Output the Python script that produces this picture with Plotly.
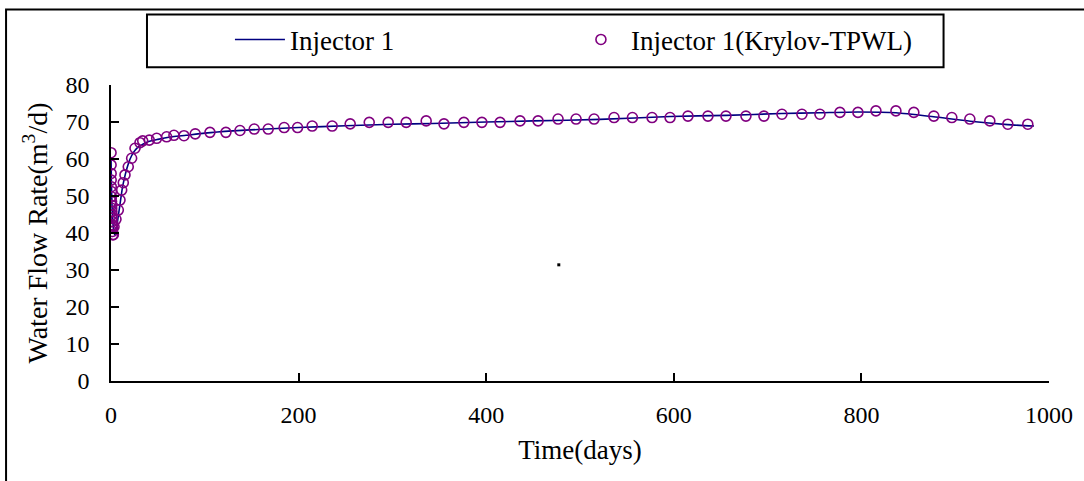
import plotly.graph_objects as go

# Simulated injector rate (full-order model), days vs m3/d
line_t = [0, 0.5, 1, 2, 3, 4, 5, 6, 8, 10, 12, 14, 17, 20, 24, 28, 34, 40, 50, 60,
          80, 100, 130, 166, 200, 250, 300, 343, 400, 450, 521, 596, 656, 715, 756,
          796, 837, 877, 916, 956, 984]
line_q = [60.5, 53.0, 48.0, 43.0, 40.5, 39.5, 40.0, 41.5, 45.0, 48.5, 52.0, 54.5,
          57.5, 59.8, 61.8, 63.0, 64.0, 64.7, 65.3, 65.8, 66.4, 67.0, 67.6, 68.1,
          68.5, 69.0, 69.4, 69.6, 70.0, 70.3, 70.7, 71.5, 71.8, 72.3, 72.5, 72.7,
          72.5, 71.4, 70.2, 69.3, 68.9]

# Reduced-order (Krylov-TPWL) results
rom_t = [0.05, 0.1, 0.15, 0.2, 0.3, 0.4, 0.5, 0.6, 0.7, 0.8, 0.9, 1.0, 1.1, 1.2,
         1.3, 1.5, 1.7, 2.0, 2.5, 3.2, 5.3, 7.8, 9.6, 11.4, 13.1, 14.9, 18.4, 22.0,
         25.6, 30.9, 33.8, 40.8, 48.7, 59.3, 67.1, 77.8, 89.8, 105.5, 122.5, 137.5,
         152.7, 167.6, 184.6, 198.9, 214.5, 235.8, 255.0, 275.3, 295.5, 314.7,
         336.0, 355.0, 376.2, 395.4, 414.8, 436.1, 455.3, 476.6, 495.8, 515.0,
         536.3, 555.9, 576.8, 596.0, 615.1, 636.4, 655.6, 676.9, 696.1, 715.3,
         736.6, 755.8, 777.1, 796.3, 815.5, 836.8, 855.9, 877.2, 896.4, 915.6,
         936.9, 956.1, 977.4]
rom_q = [61.7, 58.4, 56.1, 54.3, 52.5, 51.2, 49.8, 48.5, 47.5, 46.7, 45.8, 44.9,
         44.0, 43.1, 42.2, 41.3, 40.4, 39.5, 39.6, 41.7, 43.7, 46.2, 48.9, 51.6,
         53.6, 55.7, 57.9, 60.2, 62.9, 64.4, 64.9, 65.1, 65.6, 66.0, 66.4, 66.3,
         66.8, 67.2, 67.2, 67.7, 68.1, 68.1, 68.5, 68.5, 68.9, 68.9, 69.5, 69.9,
         69.9, 69.9, 70.3, 69.5, 69.9, 69.9, 69.9, 70.3, 70.3, 70.8, 70.8, 70.8,
         71.2, 71.2, 71.2, 71.2, 71.6, 71.6, 71.6, 71.6, 71.6, 72.1, 72.1, 72.1,
         72.6, 72.6, 73.0, 73.0, 72.6, 71.6, 71.2, 70.8, 70.3, 69.4, 69.4]

# stray point in the plot area
dot_t = [477.4]
dot_q = [31.4]

x_ticks = [0, 200, 400, 600, 800, 1000]
y_ticks = [0, 10, 20, 30, 40, 50, 60, 70, 80]

W, H = 1084, 481
ML, MR, MT, MB = 111, 34.5, 84.7, 99.5
pw = W - ML - MR
ph = H - MT - MB


def px_x(p):
    return (p - ML) / pw


def px_y(p):
    return (H - MB - p) / ph


serif = "Liberation Serif"

fig = go.Figure()
fig.add_trace(go.Scatter(
    x=line_t, y=line_q, mode="lines", name="Injector 1",
    line=dict(color="#000080", width=1.6, shape="spline", smoothing=0.6),
))
fig.add_trace(go.Scatter(
    x=rom_t, y=rom_q, mode="markers", name="Injector 1(Krylov-TPWL)",
    marker=dict(symbol="circle-open", size=10, color="#800080",
                line=dict(width=1.6, color="#800080")),
))
fig.add_trace(go.Scatter(
    x=dot_t, y=dot_q, mode="markers", showlegend=False, hoverinfo="skip",
    marker=dict(symbol="square", size=3, color="black"),
))

fig.update_layout(
    width=W, height=H,
    margin=dict(l=ML, r=MR, t=MT, b=MB),
    paper_bgcolor="white", plot_bgcolor="white",
    legend=dict(
        orientation="h", x=px_x(230), y=px_y(39.5), xanchor="left", yanchor="middle",
        font=dict(family=serif, size=27, color="black"),
        bgcolor="rgba(0,0,0,0)", borderwidth=0,
        entrywidth=276, entrywidthmode="pixels", itemwidth=50,
    ),
    xaxis=dict(
        range=[0, 1000], tickvals=x_ticks, ticks="inside", ticklen=8,
        tickwidth=1.5, tickcolor="black", showline=True, linecolor="black",
        linewidth=1.5, showgrid=False, zeroline=False,
        tickfont=dict(family=serif, size=24, color="black"),
        ticklabelstandoff=11,
        title=dict(text="Time(days)", font=dict(family=serif, size=27, color="black"),
                   standoff=14),
    ),
    yaxis=dict(
        range=[0, 80], tickvals=y_ticks, ticks="inside", ticklen=8,
        tickwidth=1.5, tickcolor="black", showline=True, linecolor="black",
        linewidth=1.5, showgrid=False, zeroline=False,
        tickfont=dict(family=serif, size=24, color="black"),
        ticklabelstandoff=15,
        title=dict(text="Water Flow Rate(m<sup>3</sup>/d)",
                   font=dict(family=serif, size=28, color="black"), standoff=10),
    ),
    shapes=[
        # outer chart frame
        dict(type="rect", xref="paper", yref="paper",
             x0=px_x(6), x1=px_x(1100), y0=px_y(500), y1=px_y(9),
             line=dict(color="black", width=2), fillcolor="rgba(0,0,0,0)", layer="below"),
        # legend frame
        dict(type="rect", xref="paper", yref="paper",
             x0=px_x(147), x1=px_x(944), y0=px_y(67), y1=px_y(14),
             line=dict(color="black", width=2), fillcolor="rgba(0,0,0,0)", layer="below"),
    ],
)

fig.write_html("out.html")
